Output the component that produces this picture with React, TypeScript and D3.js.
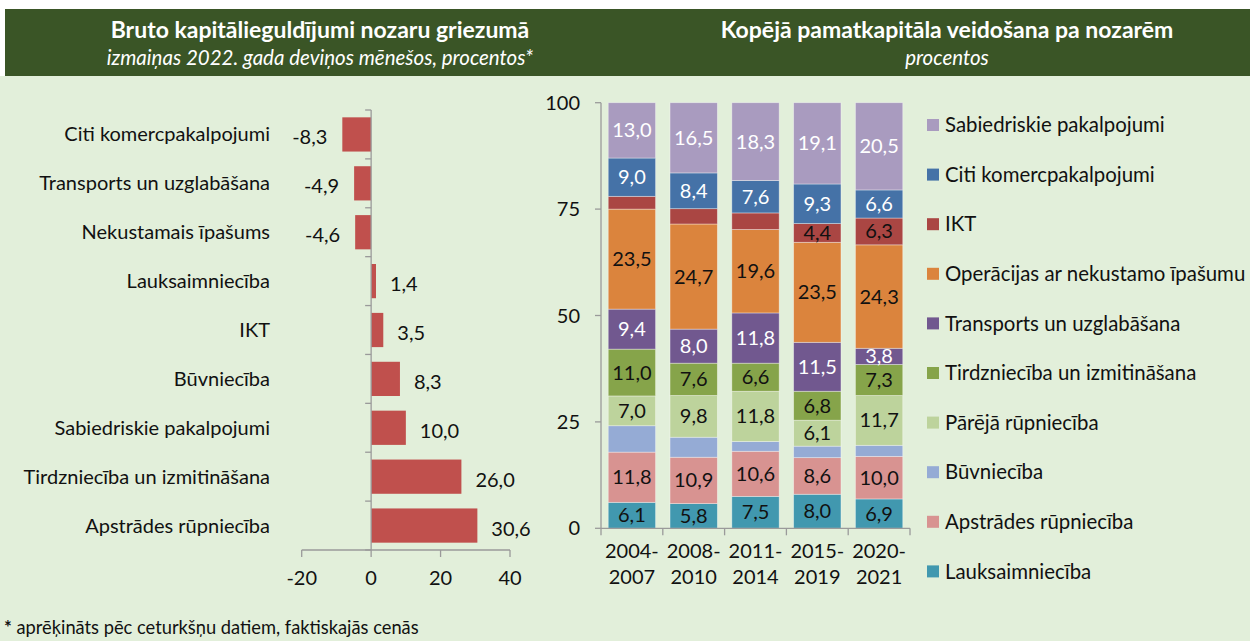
import React from "react";
import * as d3 from "d3";

// ---------- Left chart data ----------
const leftCategories = [
  "Citi komercpakalpojumi",
  "Transports un uzglabāšana",
  "Nekustamais īpašums",
  "Lauksaimniecība",
  "IKT",
  "Būvniecība",
  "Sabiedriskie pakalpojumi",
  "Tirdzniecība un izmitināšana",
  "Apstrādes rūpniecība",
];
const leftValues = [-8.3, -4.9, -4.6, 1.4, 3.5, 8.3, 10.0, 26.0, 30.6];
const leftTicks = [-20, 0, 20, 40];

// ---------- Right chart data ----------
const periods = ["2004-2007", "2008-2010", "2011-2014", "2015-2019", "2020-2021"];
// series bottom -> top
const seriesNames = [
  "Lauksaimniecība",
  "Apstrādes rūpniecība",
  "Būvniecība",
  "Pārējā rūpniecība",
  "Tirdzniecība un izmitināšana",
  "Transports un uzglabāšana",
  "Operācijas ar nekustamo īpašumu",
  "IKT",
  "Citi komercpakalpojumi",
  "Sabiedriskie pakalpojumi",
];
const lauksaimnieciba = [6.1, 5.8, 7.5, 8.0, 6.9];
const apstrades = [11.8, 10.9, 10.6, 8.6, 10.0];
const buvnieciba = [6.2, 4.7, 2.3, 2.7, 2.6];
const pareja = [7.0, 9.8, 11.8, 6.1, 11.7];
const tirdznieciba = [11.0, 7.6, 6.6, 6.8, 7.3];
const transports = [9.4, 8.0, 11.8, 11.5, 3.8];
const operacijas = [23.5, 24.7, 19.6, 23.5, 24.3];
const ikt = [3.0, 3.6, 3.9, 4.4, 6.3];
const citi = [9.0, 8.4, 7.6, 9.3, 6.6];
const sabiedriskie = [13.0, 16.5, 18.3, 19.1, 20.5];
const seriesValues = [
  lauksaimnieciba,
  apstrades,
  buvnieciba,
  pareja,
  tirdznieciba,
  transports,
  operacijas,
  ikt,
  citi,
  sabiedriskie,
];
const seriesColors = [
  "#4198AF",
  "#D89391",
  "#95ABD5",
  "#BDD39C",
  "#86A44A",
  "#71588F",
  "#DB843D",
  "#AA4643",
  "#4572A7",
  "#A99BBF",
];
const whiteLabelSeries = [
  "Transports un uzglabāšana",
  "Citi komercpakalpojumi",
  "Sabiedriskie pakalpojumi",
];
const unlabeled = [
  "Būvniecība|2004-2007",
  "Būvniecība|2008-2010",
  "Būvniecība|2011-2014",
  "Būvniecība|2015-2019",
  "Būvniecība|2020-2021",
  "IKT|2004-2007",
  "IKT|2008-2010",
  "IKT|2011-2014",
];
const rightTicks = [0, 25, 50, 75, 100];

const FONT = "Lato, 'Open Sans', sans-serif";
const fmt = (v: number) => v.toFixed(1).replace(".", ",");

export default function App() {
  const W = 1250;
  const H = 641;

  // Left scales
  const xL = d3.scaleLinear().domain([-20, 40]).range([301.7, 510]);
  const yL = d3
    .scaleBand<string>()
    .domain(leftCategories)
    .range([110, 550])
    .paddingInner(0.3)
    .paddingOuter(0.15);
  const stepL = yL.step();

  // Right scales
  const yR = d3.scaleLinear().domain([0, 100]).range([528.3, 102.7]);
  const xR = d3
    .scaleBand<string>()
    .domain(periods)
    .range([601, 910])
    .paddingInner(0.234)
    .paddingOuter(0.117);
  const stepR = xR.step();

  const table = periods.map((p, i) => {
    const row: Record<string, any> = { period: p };
    seriesNames.forEach((s, k) => (row[s] = seriesValues[k][i]));
    return row;
  });
  const stacked = d3.stack<any>().keys(seriesNames)(table);

  const axisColor = "#9A9A9A";
  const ink = "#111111";
  const FS = 20;

  return (
    <div style={{ position: "absolute", left: 0, top: 0 }}>
      <svg width={W} height={H} style={{ display: "block" }} fontFamily={FONT}>
        <rect x={0} y={0} width={W} height={H} fill="#ffffff" />
        <rect x={0} y={76} width={W} height={H - 76} fill="#E2EFDA" />
        <rect x={5} y={9} width={W - 5} height={67} fill="#3A5526" />

        {/* Titles */}
        <text x={320} y={38} textAnchor="middle" fill="#fff" fontSize={23} fontWeight="bold">
          Bruto kapitālieguldījumi nozaru griezumā
        </text>
        <text x={320} y={65} textAnchor="middle" fill="#fff" fontSize={20.5} fontStyle="italic">
          izmaiņas 2022. gada deviņos mēnešos, procentos*
        </text>
        <text x={947} y={38} textAnchor="middle" fill="#fff" fontSize={23} fontWeight="bold">
          Kopējā pamatkapitāla veidošana pa nozarēm
        </text>
        <text x={947} y={65} textAnchor="middle" fill="#fff" fontSize={20.5} fontStyle="italic">
          procentos
        </text>

        {/* ---------- Left chart ---------- */}
        <g>
          {leftCategories.map((c, i) => {
            const v = leftValues[i];
            const y0 = yL(c)!;
            const x0 = xL(Math.min(0, v));
            const w = Math.abs(xL(v) - xL(0));
            const cy = y0 + yL.bandwidth() / 2;
            return (
              <g key={c}>
                <rect x={x0} y={y0} width={w} height={yL.bandwidth()} fill="#C0504D" />
                <text x={270} y={cy} dy="0.35em" textAnchor="end" fontSize={FS} fill={ink}>
                  {c}
                </text>
                <text
                  x={v < 0 ? xL(v) - 15 : xL(v) + 14}
                  y={cy + 3}
                  dy="0.35em"
                  textAnchor={v < 0 ? "end" : "start"}
                  fontSize={FS}
                  fill={ink}
                >
                  {fmt(v)}
                </text>
              </g>
            );
          })}
          {/* vertical axis */}
          <line x1={xL(0)} x2={xL(0)} y1={110} y2={550} stroke={axisColor} strokeWidth={1.3} />
          {d3.range(leftCategories.length + 1).map((i) => (
            <line
              key={i}
              x1={xL(0) - 6}
              x2={xL(0)}
              y1={110 + i * stepL}
              y2={110 + i * stepL}
              stroke={axisColor}
              strokeWidth={1.3}
            />
          ))}
          {/* horizontal axis */}
          <line x1={xL(-20)} x2={xL(40)} y1={550} y2={550} stroke={axisColor} strokeWidth={1.3} />
          {leftTicks.map((t) => (
            <g key={t}>
              <line x1={xL(t)} x2={xL(t)} y1={550} y2={557} stroke={axisColor} strokeWidth={1.3} />
              <text x={xL(t)} y={585} textAnchor="middle" fontSize={FS} fill={ink}>
                {t}
              </text>
            </g>
          ))}
        </g>

        {/* ---------- Right chart ---------- */}
        <g>
          {stacked.map((layer, k) =>
            layer.map((d, i) => {
              const p = periods[i];
              const x = xR(p)!;
              const yTop = yR(d[1]);
              const yBot = yR(d[0]);
              return (
                <rect
                  key={layer.key + p}
                  x={x}
                  y={yTop}
                  width={xR.bandwidth()}
                  height={yBot - yTop}
                  fill={seriesColors[k]}
                  stroke="#ffffff"
                  strokeOpacity={0.45}
                  strokeWidth={0.8}
                />
              );
            })
          )}
          {stacked.map((layer, k) =>
            layer.map((d, i) => {
              const p = periods[i];
              if (unlabeled.includes(layer.key + "|" + p)) return null;
              const v = seriesValues[k][i];
              const cx = xR(p)! + xR.bandwidth() / 2;
              const cy = (yR(d[0]) + yR(d[1])) / 2;
              return (
                <text
                  key={"l" + layer.key + p}
                  x={cx}
                  y={cy}
                  dy="0.35em"
                  textAnchor="middle"
                  fontSize={FS}
                  fill={whiteLabelSeries.includes(layer.key) ? "#ffffff" : ink}
                >
                  {fmt(v)}
                </text>
              );
            })
          )}
          {/* y axis */}
          <line x1={601} x2={601} y1={yR(100)} y2={yR(0)} stroke={axisColor} strokeWidth={1.3} />
          {rightTicks.map((t) => (
            <g key={t}>
              <line x1={595} x2={601} y1={yR(t)} y2={yR(t)} stroke={axisColor} strokeWidth={1.3} />
              <text x={580} y={yR(t)} dy="0.35em" textAnchor="end" fontSize={FS} fill={ink}>
                {t}
              </text>
            </g>
          ))}
          {/* x axis */}
          <line x1={601} x2={910} y1={yR(0)} y2={yR(0)} stroke={axisColor} strokeWidth={1.3} />
          {d3.range(periods.length + 1).map((i) => (
            <line
              key={i}
              x1={601 + i * stepR}
              x2={601 + i * stepR}
              y1={yR(0)}
              y2={yR(0) + 7}
              stroke={axisColor}
              strokeWidth={1.3}
            />
          ))}
          {periods.map((p) => {
            const [a, b] = p.split("-");
            const cx = xR(p)! + xR.bandwidth() / 2;
            return (
              <text key={p} x={cx} textAnchor="middle" fontSize={FS} fill={ink}>
                <tspan x={cx} y={558}>
                  {a + "-"}
                </tspan>
                <tspan x={cx} y={584}>
                  {b}
                </tspan>
              </text>
            );
          })}
        </g>

        {/* Legend (top = last series) */}
        <g>
          {seriesNames
            .map((s, k) => ({ s, k }))
            .reverse()
            .map(({ s, k }, j) => {
              const cy = 125 + j * 49.6;
              return (
                <g key={s}>
                  <rect x={927} y={cy - 6} width={12} height={12} fill={seriesColors[k]} />
                  <text x={945} y={cy} dy="0.35em" fontSize={FS + 0.4} fill={ink}>
                    {s}
                  </text>
                </g>
              );
            })}
        </g>

        {/* Footnote */}
        <text x={4} y={634} fontSize={18.3} fill={ink}>
          <tspan fontWeight="bold">*</tspan> aprēķināts pēc ceturkšņu datiem, faktiskajās cenās
        </text>
      </svg>
    </div>
  );
}
